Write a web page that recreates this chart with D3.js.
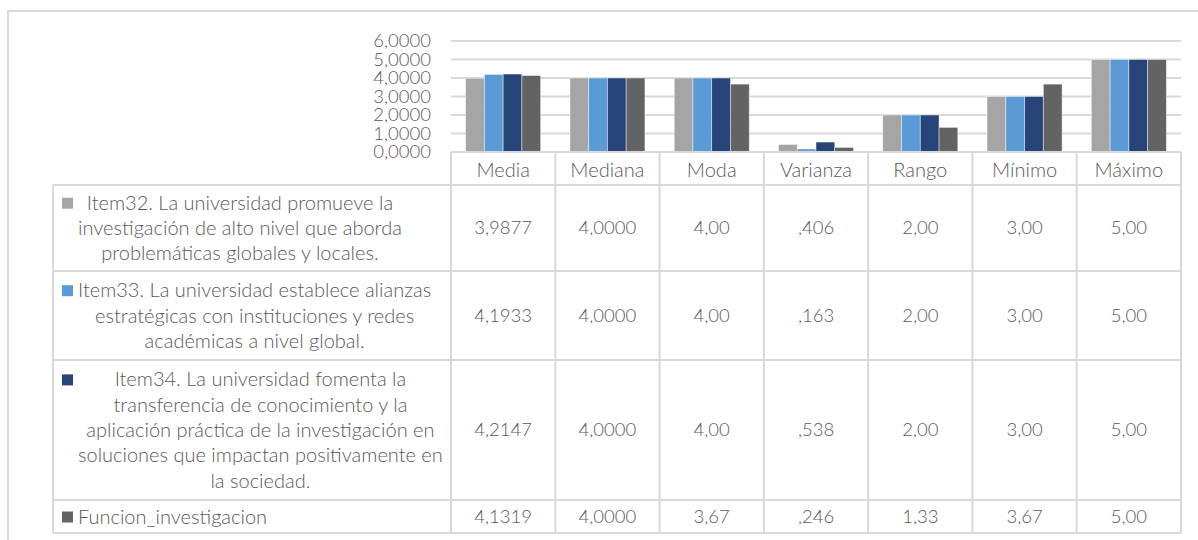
<!DOCTYPE html>
<html>
<head>
<meta charset="utf-8">
<script src="https://cdn.jsdelivr.net/npm/d3@7"></script>
<style>
  body { margin: 0; background: #fff; }
  svg { display: block; }
  text { font-family: Lato, "Open Sans", sans-serif; font-weight: 300; fill: #595959; }
</style>
</head>
<body>
<div id="chart"></div>
<script>
// categories (columns of the data table)
var categories = ['Media', 'Mediana', 'Moda', 'Varianza', 'Rango', 'Mínimo', 'Máximo'];
// decimals shown in the table for each category
var decimals = [4, 4, 2, 3, 2, 2, 2];

// series names, already broken in lines as in the table
var seriesNames = ['Item32', 'Item33', 'Item34', 'Funcion_investigacion'];
var seriesLines = [
  ['Item32. La universidad promueve la', 'investigación de alto nivel que aborda', 'problemáticas globales y locales.'],
  ['Item33. La universidad establece alianzas', 'estratégicas con instituciones y redes', 'académicas a nivel global.'],
  ['Item34. La universidad fomenta la', 'transferencia de conocimiento y la', 'aplicación práctica de la investigación en', 'soluciones que impactan positivamente en', 'la sociedad.'],
  ['Funcion_investigacion']
];
var seriesColors = ['#A5A5A5', '#5B9BD5', '#264478', '#636363'];

// values per series, in category order
var item32 = [3.9877, 4.0000, 4.00, 0.406, 2.00, 3.00, 5.00];
var item33 = [4.1933, 4.0000, 4.00, 0.163, 2.00, 3.00, 5.00];
var item34 = [4.2147, 4.0000, 4.00, 0.538, 2.00, 3.00, 5.00];
var funcion = [4.1319, 4.0000, 3.67, 0.246, 1.33, 3.67, 5.00];
var seriesValues = [item32, item33, item34, funcion];

var yTicks = [0, 1, 2, 3, 4, 5, 6];

const dims = {
  width: 1198,
  height: 540,
  left: 451,
  right: 1181,
  top: 41,
  base: 152,
  tableLeft: 53,
  headerBottom: 185,
  rowHeights: [86, 89, 140, 33],
  lineHeight: 25.3,
  fontSize: 20,     // words
  numSize: 18.5     // numbers
};

const grid = '#D9D9D9';
const locale = d3.formatLocale({decimal: ',', thousands: '.', grouping: [3], currency: ['', '']});

function fmtValue(v, i) {
  var s = locale.format('.' + decimals[i] + 'f')(v);
  // SPSS style: drop the leading zero
  if (s.indexOf('0,') === 0) s = s.slice(1);
  return s;
}

const svg = d3.select('#chart').append('svg')
  .attr('width', dims.width)
  .attr('height', dims.height);

// outer chart frame
svg.append('rect')
  .attr('x', 8).attr('y', 11)
  .attr('width', 1210).attr('height', 560)
  .attr('fill', 'none')
  .attr('stroke', grid)
  .attr('stroke-width', 2);

const x = d3.scaleBand().domain(categories).range([dims.left, dims.right]);
const x1 = d3.scaleBand().domain(seriesNames).range([0, x.bandwidth()]).paddingOuter(0.78);
const y = d3.scaleLinear().domain([0, 6]).range([dims.base, dims.top]);

// gridlines
svg.append('g')
  .selectAll('line')
  .data(yTicks.filter(function(d) { return d > 0; }))
  .enter().append('line')
  .attr('x1', dims.left).attr('x2', dims.right)
  .attr('y1', function(d) { return y(d); })
  .attr('y2', function(d) { return y(d); })
  .attr('stroke', grid)
  .attr('stroke-width', 2);

// y axis labels
const yAxis = d3.axisLeft(y)
  .tickValues(yTicks)
  .tickFormat(locale.format('.4f'))
  .tickSize(0)
  .tickPadding(20);

const yg = svg.append('g')
  .attr('transform', 'translate(' + dims.left + ',0)')
  .call(yAxis);
yg.select('.domain').remove();
yg.selectAll('text')
  .style('font-size', dims.numSize + 'px')
  .attr('font-family', null)
  .attr('fill', '#595959');

// bars
const groups = svg.append('g')
  .selectAll('g')
  .data(categories)
  .enter().append('g')
  .attr('transform', function(d) { return 'translate(' + x(d) + ',0)'; });

groups.selectAll('rect')
  .data(function(c, ci) {
    return seriesNames.map(function(s, si) { return {s: s, si: si, v: seriesValues[si][ci]}; });
  })
  .enter().append('rect')
  .attr('x', function(d) { return x1(d.s); })
  .attr('width', x1.bandwidth())
  .attr('y', function(d) { return y(d.v); })
  .attr('height', function(d) { return dims.base - y(d.v); })
  .attr('fill', function(d) { return seriesColors[d.si]; })
  .attr('stroke', 'rgba(255,255,255,0.55)')
  .attr('stroke-width', 0.8);

// DATA TABLE
const rowTops = [dims.headerBottom];
dims.rowHeights.forEach(function(h, i) { rowTops.push(rowTops[i] + h); });
const tableBottom = rowTops[rowTops.length - 1];

const table = svg.append('g').attr('class', 'table');

// header row text
table.selectAll('text.head')
  .data(categories)
  .enter().append('text')
  .attr('class', 'head')
  .attr('x', function(d) { return x(d) + x.bandwidth() / 2; })
  .attr('y', (dims.base + dims.headerBottom) / 2 + 1)
  .attr('dy', '0.35em')
  .attr('text-anchor', 'middle')
  .style('font-size', dims.fontSize + 'px')
  .text(function(d) { return d; });

// values
seriesValues.forEach(function(vals, si) {
  var cy = (rowTops[si] + rowTops[si + 1]) / 2;
  table.append('g').selectAll('text')
    .data(vals)
    .enter().append('text')
    .attr('x', function(d, i) { return x(categories[i]) + x.bandwidth() / 2; })
    .attr('y', cy)
    .attr('dy', '0.35em')
    .attr('text-anchor', 'middle')
    .style('font-size', dims.numSize + 'px')
    .text(function(d, i) { return fmtValue(d, i); });
});

// series labels with legend keys
seriesLines.forEach(function(lines, si) {
  var cy = (rowTops[si] + rowTops[si + 1]) / 2;
  var firstY = cy - (lines.length - 1) * dims.lineHeight / 2;
  var g = table.append('g');
  var texts = g.selectAll('text')
    .data(lines)
    .enter().append('text')
    .attr('y', function(d, i) { return firstY + i * dims.lineHeight; })
    .attr('dy', '0.35em')
    .attr('text-anchor', 'middle')
    .style('font-size', dims.fontSize + 'px')
    .text(function(d) { return d; });
  var maxW = 0;
  texts.each(function() { maxW = Math.max(maxW, this.getComputedTextLength()); });
  texts.attr('x', 78 + maxW / 2);
  g.append('rect')
    .attr('x', 62).attr('y', firstY - 5)
    .attr('width', 11).attr('height', 11)
    .attr('fill', seriesColors[si]);
});

// table borders
var hLines = [{y: dims.base, x1: dims.left}, {y: dims.headerBottom, x1: dims.tableLeft}];
rowTops.slice(1).forEach(function(t) { hLines.push({y: t, x1: dims.tableLeft}); });
table.append('g').selectAll('line')
  .data(hLines)
  .enter().append('line')
  .attr('x1', function(d) { return d.x1; })
  .attr('x2', dims.right)
  .attr('y1', function(d) { return d.y; })
  .attr('y2', function(d) { return d.y; })
  .attr('stroke', grid).attr('stroke-width', 2);

var vLines = [{x: dims.tableLeft, y1: dims.headerBottom}];
categories.forEach(function(c) { vLines.push({x: x(c), y1: dims.base}); });
vLines.push({x: dims.right, y1: dims.base});
table.append('g').selectAll('line')
  .data(vLines)
  .enter().append('line')
  .attr('x1', function(d) { return d.x; })
  .attr('x2', function(d) { return d.x; })
  .attr('y1', function(d) { return d.y1; })
  .attr('y2', tableBottom)
  .attr('stroke', grid).attr('stroke-width', 2);
</script>
</body>
</html>
